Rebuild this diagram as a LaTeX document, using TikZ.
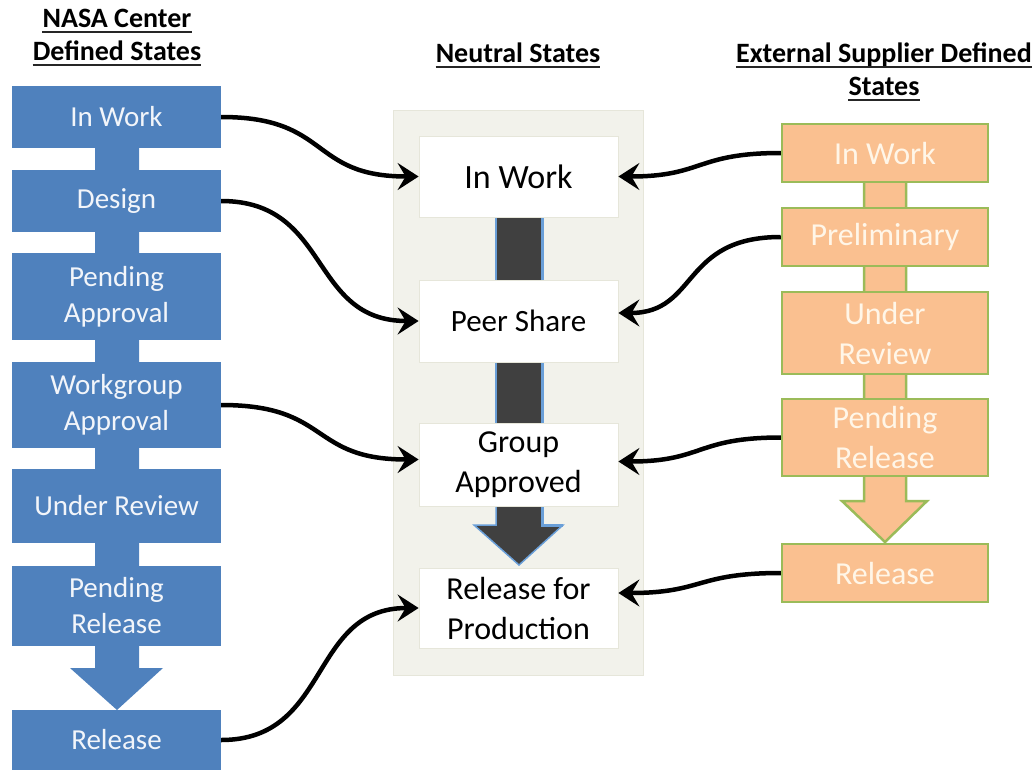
\documentclass[tikz,border=0pt]{standalone}
\usepackage{fontspec}
\setmainfont{Carlito}
\usetikzlibrary{arrows.meta}
\definecolor{nasablue}{HTML}{4F81BD}
\definecolor{peach}{HTML}{FAC090}
\definecolor{olivegreen}{HTML}{9BBB59}
\definecolor{panelbg}{HTML}{F2F2EB}
\definecolor{paneledge}{HTML}{E6E6DA}
\definecolor{darkbar}{HTML}{404040}
\definecolor{baredge}{HTML}{6A9FD8}
\definecolor{lighttext}{HTML}{F2F5FA}
\definecolor{creamtext}{HTML}{FFF6E8}
\tikzset{
  hdr/.style={font=\bfseries\fontsize{28}{34}\selectfont, inner sep=0pt, anchor=base},
  uline/.style={line width=1.6pt, draw=black!85},
  lbox/.style={fill=nasablue, draw=none, minimum width=209pt, inner sep=0pt,
    text=lighttext, font=\fontsize{29}{36}\selectfont, align=center},
  mbox/.style={fill=white, draw=paneledge, line width=0.8pt, minimum width=199pt, inner sep=0pt,
    text=black, font=\fontsize{32}{40}\selectfont, align=center},
  rbox/.style={fill=peach, draw=olivegreen, line width=2.5pt, minimum width=206pt, inner sep=0pt,
    text=creamtext, font=\fontsize{32}{40}\selectfont, align=center},
  conn/.style={line width=4.5pt, draw=black, -{Stealth[length=21pt,width=27pt,inset=8pt]}},
  darkpiece/.style={fill=darkbar, draw=baredge, line width=1.5pt},
  bluerim/.style={draw=baredge, line width=3pt},
}
\begin{document}
\begin{tikzpicture}[x=1pt,y=-1pt]
\useasboundingbox (0,0) rectangle (1036,772);
% headers
\node[hdr] (hL1) at (117,27) {NASA Center};
\node[hdr] (hL2) at (117,60) {Defined States};
\node[hdr] (hM) at (518,62) {Neutral States};
\node[hdr] (hR1) at (884,62) {External Supplier Defined};
\node[hdr] (hR2) at (884,95) {States};
\foreach \h in {hL1,hL2,hM,hR1,hR2}{
  \draw[uline] ([yshift=-5pt]\h.base west) -- ([yshift=-5pt]\h.base east);
}
% left column spine and arrow
\fill[nasablue] (95,140) -- (139,140) -- (139,668) -- (163,668) -- (117,710) -- (70,668) -- (95,668) -- cycle;
\node[lbox, minimum height=62pt] (lIn) at (116.5,117) {In Work};
\node[lbox, minimum height=62pt] (lDes) at (116.5,201) {Design};
\node[lbox, minimum height=87pt] (lPA) at (116.5,296.5) {Pending\\Approval};
\node[lbox, minimum height=86pt] (lWA) at (116.5,405) {Workgroup\\Approval};
\node[lbox, minimum height=74pt] (lUR) at (116.5,506) {Under Review};
\node[lbox, minimum height=80pt] (lPR) at (116.5,606) {Pending\\Release};
\node[lbox, minimum height=60pt] (lRel) at (116.5,740) {Release};
% middle panel
\filldraw[fill=panelbg, draw=paneledge, line width=1pt] (393,110) rectangle (643,675);
\filldraw[darkpiece] (496,215) rectangle (542,282);
\draw[bluerim] (542,215) -- (542,282);
\filldraw[darkpiece] (496,360) rectangle (542,425);
\draw[bluerim] (542,360) -- (542,425);
\filldraw[darkpiece] (496,504) -- (542,504) -- (542,525) -- (563,525) -- (519,565) -- (474,525) -- (496,525) -- cycle;
\draw[bluerim] (542,504) -- (542,525) -- (563,525);
\node[mbox, minimum height=81pt, font=\fontsize{34}{40}\selectfont] (mIn) at (518.5,176.5) {In Work};
\node[mbox, minimum height=82pt, font=\fontsize{31}{40}\selectfont] (mPS) at (518.5,321) {Peer Share};
\node[mbox, minimum height=83pt] (mGA) at (518.5,464.5) {Group\\Approved};
\node[mbox, minimum height=80pt] (mRP) at (518.5,608) {Release for\\Production};
% right column spine and arrow
\filldraw[fill=peach, draw=olivegreen, line width=2.5pt] (864,180) -- (906,180) -- (906,501) -- (927,501) -- (885,542) -- (842,501) -- (864,501) -- cycle;
\node[rbox, minimum height=58pt] (rIn) at (885,153) {In Work};
\node[rbox, minimum height=58pt] (rPre) at (885,237) {Preliminary};
\node[rbox, minimum height=82pt] (rUR) at (885,333) {Under\\Review};
\node[rbox, minimum height=77pt] (rPend) at (885,437.5) {Pending\\Release};
\node[rbox, minimum height=58pt] (rRel) at (885,573) {Release};
% connectors from the left
\draw[conn] (lIn.east) .. controls +(110,0) and +(-110,0) .. (mIn.west);
\draw[conn] (lDes.east) .. controls +(110,0) and +(-110,0) .. (mPS.west);
\draw[conn] (lWA.east) .. controls +(110,0) and +(-110,0) .. ([yshift=5pt]mGA.west);
\draw[conn] (lRel.east) .. controls +(110,0) and +(-110,0) .. (mRP.west);
% connectors from the right
\draw[conn] (rIn.west) .. controls +(-85,0) and +(85,0) .. (mIn.east);
\draw[conn] (rPre.west) .. controls +(-100,0) and +(80,0) .. ([yshift=8pt]mPS.east);
\draw[conn] (rPend.west) .. controls +(-85,0) and +(85,0) .. ([yshift=3pt]mGA.east);
\draw[conn] (rRel.west) .. controls +(-85,0) and +(85,0) .. ([yshift=15pt]mRP.east);
\end{tikzpicture}
\end{document}
